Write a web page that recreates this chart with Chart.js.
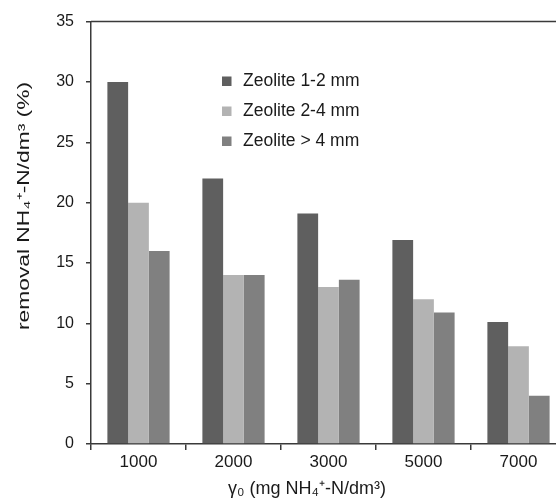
<!DOCTYPE html>
<html><head><meta charset="utf-8">
<script src="https://cdn.jsdelivr.net/npm/chart.js@4/dist/chart.umd.min.js"></script>
<style>html,body{margin:0;padding:0;overflow:hidden;background:#fff;width:556px;height:501px}canvas{display:block}</style>
</head><body>
<canvas id="c" width="600" height="501"></canvas>
<script>
const categories = ['1000', '2000', '3000', '5000', '7000'];
const seriesLabels = ['Zeolite 1-2 mm', 'Zeolite 2-4 mm', 'Zeolite > 4 mm'];
const zeolite12 = [30, 22, 19.1, 16.9, 10.1];
const zeolite24 = [20, 14, 13.0, 12.0, 8.1];
const zeoliteGt4 = [16, 14, 13.6, 10.9, 4.0];
const yMin = 0, yMax = 35, yStep = 5;
const xTitle = 'γ\u2080 (mg NH\u2084\u207A-N/dm\u00B3)';
const yTitle = 'removal NH\u2084\u207A-N/dm\u00B3 (%)';

const colors = ['#5f5f5f', '#b3b3b3', '#808080'];
const axisColor = '#3a3a3a';
const textColor = '#1a1a1a';
const FONT = '"Liberation Sans", Arial, sans-serif';
Chart.defaults.font.family = FONT;
Chart.defaults.color = textColor;

const extras = {
  id: 'extras',
  afterDraw(chart) {
    const {ctx, chartArea: a} = chart;
    ctx.save();
    // top frame line
    ctx.strokeStyle = axisColor; ctx.lineWidth = 1.5;
    ctx.beginPath(); ctx.moveTo(a.left, a.top); ctx.lineTo(a.right + 10, a.top); ctx.stroke();
    // legend
    ctx.font = '17.5px ' + FONT; ctx.textBaseline = 'middle'; ctx.textAlign = 'left';
    chart.data.datasets.forEach((ds, i) => {
      const y = 81 + i * 30;
      ctx.fillStyle = ds.backgroundColor;
      ctx.fillRect(222, y - 4.5, 9.5, 9.5);
      ctx.fillStyle = textColor;
      ctx.fillText(ds.label, 243, y);
    });
    // x title
    ctx.font = '18px ' + FONT; ctx.textAlign = 'center';
    ctx.fillText(xTitle, 307, 489);
    // y title
    ctx.font = '16px ' + FONT;
    const w = ctx.measureText(yTitle).width;
    ctx.translate(25, 206); ctx.rotate(-Math.PI / 2);
    ctx.scale(248 / w, 1);
    ctx.fillText(yTitle, 0, 0);
    ctx.restore();
  }
};

new Chart(document.getElementById('c'), {
  type: 'bar',
  data: {
    labels: categories,
    datasets: [
      {label: seriesLabels[0], data: zeolite12, backgroundColor: colors[0]},
      {label: seriesLabels[1], data: zeolite24, backgroundColor: colors[1]},
      {label: seriesLabels[2], data: zeoliteGt4, backgroundColor: colors[2]}
    ]
  },
  options: {
    responsive: false, animation: false,
    layout: {padding: {top: 18, right: 34, left: 0, bottom: 0}},
    datasets: {bar: {categoryPercentage: 0.655, barPercentage: 1.0, borderWidth: 0}},
    plugins: {legend: {display: false}, tooltip: {enabled: false}},
    scales: {
      x: {
        grid: {display: true, drawOnChartArea: false, drawTicks: true, tickLength: 6, color: axisColor, lineWidth: 1.5, offset: true},
        border: {color: axisColor, width: 1.5},
        ticks: {font: {size: 17}, color: textColor, padding: 2, maxRotation: 0},
        afterFit(s) { s.height = 57; }
      },
      y: {
        min: yMin, max: yMax,
        grid: {display: true, drawOnChartArea: false, drawTicks: true, tickLength: 5, color: axisColor, lineWidth: 1.5},
        border: {color: axisColor, width: 1.5},
        ticks: {stepSize: yStep, font: {size: 16}, color: textColor, padding: 12},
        afterFit(s) { s.width = 91; }
      }
    }
  },
  plugins: [extras]
});
</script>
</body></html>
